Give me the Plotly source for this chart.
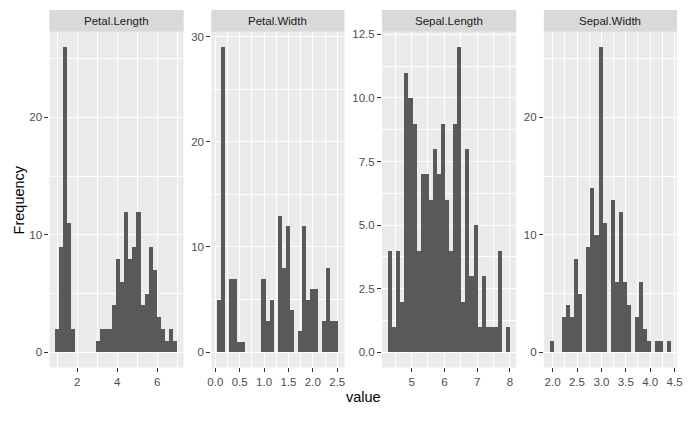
import plotly.graph_objects as go

# ---- data ----
variables = ["Petal.Length", "Petal.Width", "Sepal.Length", "Sepal.Width"]

# first bin left edge and bin width for each facet (30 bins each)
bin_start = [0.915517, 0.041379, 4.282759, 1.944828]
bin_width = [0.203448, 0.082759, 0.124138, 0.082759]

petal_length_counts = [2, 9, 26, 11, 2, 0, 0, 0, 0, 0,
                       1, 2, 2, 2, 4, 8, 6, 12, 8, 9,
                       12, 4, 5, 9, 7, 3, 2, 1, 2, 1]
petal_width_counts = [5, 29, 0, 7, 7, 1, 1, 0, 0, 0,
                      0, 7, 3, 5, 0, 13, 8, 12, 4, 0,
                      2, 12, 5, 6, 6, 0, 3, 8, 3, 3]
sepal_length_counts = [4, 1, 4, 2, 11, 10, 9, 4, 7, 7,
                       6, 8, 7, 9, 6, 4, 9, 12, 2, 8,
                       3, 5, 1, 3, 1, 1, 1, 4, 0, 1]
sepal_width_counts = [1, 0, 0, 3, 4, 3, 8, 5, 0, 9,
                      14, 10, 26, 11, 0, 13, 6, 12, 6, 4,
                      0, 3, 6, 2, 1, 0, 1, 1, 0, 1]
counts = [petal_length_counts, petal_width_counts,
          sepal_length_counts, sepal_width_counts]

x_ticks = [[2, 4, 6], [0.0, 0.5, 1.0, 1.5, 2.0, 2.5],
           [5, 6, 7, 8], [2.0, 2.5, 3.0, 3.5, 4.0, 4.5]]
x_tick_labels = [["2", "4", "6"], ["0.0", "0.5", "1.0", "1.5", "2.0", "2.5"],
                 ["5", "6", "7", "8"], ["2.0", "2.5", "3.0", "3.5", "4.0", "4.5"]]
y_ticks = [[0, 10, 20], [0, 10, 20, 30],
           [0, 2.5, 5, 7.5, 10, 12.5], [0, 10, 20]]
y_tick_labels = [["0", "10", "20"], ["0", "10", "20", "30"],
                 ["0.0", "2.5", "5.0", "7.5", "10.0", "12.5"], ["0", "10", "20"]]

# ---- layout geometry (pixels) ----
W, H = 690, 431
panel_x = [(46, 182), (210, 345), (383, 519), (547, 682)]
panel_top, panel_bottom = 29, 367
strip_top = 7

BAR = "#595959"
PANEL_BG = "#EBEBEB"
STRIP_BG = "#D9D9D9"
FONT = "Liberation Sans, Arial, sans-serif"

fig = go.Figure()
shapes = []
annotations = []

for i, var in enumerate(variables):
    n = len(counts[i])
    edges0 = bin_start[i]
    w = bin_width[i]
    centers = [edges0 + (k + 0.5) * w for k in range(n)]
    ax = "" if i == 0 else str(i + 1)
    fig.add_trace(go.Bar(
        x=centers, y=counts[i], width=[w] * n,
        marker=dict(color=BAR, line=dict(width=0)),
        xaxis="x" + ax, yaxis="y" + ax, showlegend=False,
        hoverinfo="x+y",
    ))

    lo = edges0
    hi = edges0 + n * w
    pad = 0.05 * (hi - lo)
    ymax = max(counts[i])
    ypad = 0.05 * ymax

    xmaj = x_ticks[i]
    xstep = xmaj[1] - xmaj[0]
    ymaj = y_ticks[i]
    ystep = ymaj[1] - ymaj[0]

    x0p, x1p = panel_x[i]
    xdom = [x0p / W, x1p / W]
    ydom = [(H - panel_bottom) / H, (H - panel_top) / H]

    common_tick = dict(ticks="outside", ticklen=4, tickwidth=1, tickcolor="#333333",
                       tickfont=dict(family=FONT, size=11.5, color="#4D4D4D"),
                       showline=False, zeroline=False,
                       showgrid=True, gridcolor="white", gridwidth=1.1)

    fig.layout["xaxis" + ax] = dict(
        domain=xdom, range=[lo - pad, hi + pad], anchor="y" + ax,
        tickmode="array", tickvals=xmaj, ticktext=x_tick_labels[i],
        minor=dict(showgrid=True, gridcolor="white", gridwidth=0.55,
                   tick0=xmaj[0] - xstep / 2, dtick=xstep, ticks=""),
        fixedrange=True, **common_tick)
    fig.layout["yaxis" + ax] = dict(
        domain=ydom, range=[-ypad, ymax + ypad], anchor="x" + ax,
        tickmode="array", tickvals=ymaj, ticktext=y_tick_labels[i],
        minor=dict(showgrid=True, gridcolor="white", gridwidth=0.55,
                   tick0=ystep / 2, dtick=ystep, ticks=""),
        fixedrange=True, **common_tick)

    # panel background
    shapes.append(dict(type="rect", xref="paper", yref="paper", layer="below",
                       x0=xdom[0], x1=xdom[1], y0=ydom[0], y1=ydom[1],
                       fillcolor=PANEL_BG, line=dict(width=0)))
    # strip
    shapes.append(dict(type="rect", xref="paper", yref="paper", layer="below",
                       x0=xdom[0], x1=xdom[1], y0=(H - panel_top) / H,
                       y1=(H - strip_top) / H,
                       fillcolor=STRIP_BG, line=dict(width=0)))
    annotations.append(dict(text=var, xref="paper", yref="paper",
                            x=(xdom[0] + xdom[1]) / 2,
                            y=(H - (strip_top + panel_top) / 2) / H,
                            xanchor="center", yanchor="middle", showarrow=False,
                            font=dict(family=FONT, size=11.5, color="#1A1A1A")))

annotations.append(dict(text="Frequency", xref="paper", yref="paper",
                        x=15 / W, y=(H - (panel_top + panel_bottom) / 2) / H,
                        textangle=-90, xanchor="center", yanchor="middle",
                        showarrow=False, font=dict(family=FONT, size=14.5, color="black")))
annotations.append(dict(text="value", xref="paper", yref="paper",
                        x=((panel_x[0][0] + panel_x[3][1]) / 2) / W, y=(H - 397) / H,
                        xanchor="center", yanchor="middle",
                        showarrow=False, font=dict(family=FONT, size=14.5, color="black")))

fig.update_layout(
    width=W, height=H, autosize=False,
    margin=dict(l=0, r=0, t=0, b=0, pad=0),
    paper_bgcolor="white", plot_bgcolor="rgba(0,0,0,0)",
    bargap=0, shapes=shapes, annotations=annotations,
    font=dict(family=FONT),
)

fig.write_html("out.html", config={"displayModeBar": False},
               post_script="document.body.style.margin='0';")
